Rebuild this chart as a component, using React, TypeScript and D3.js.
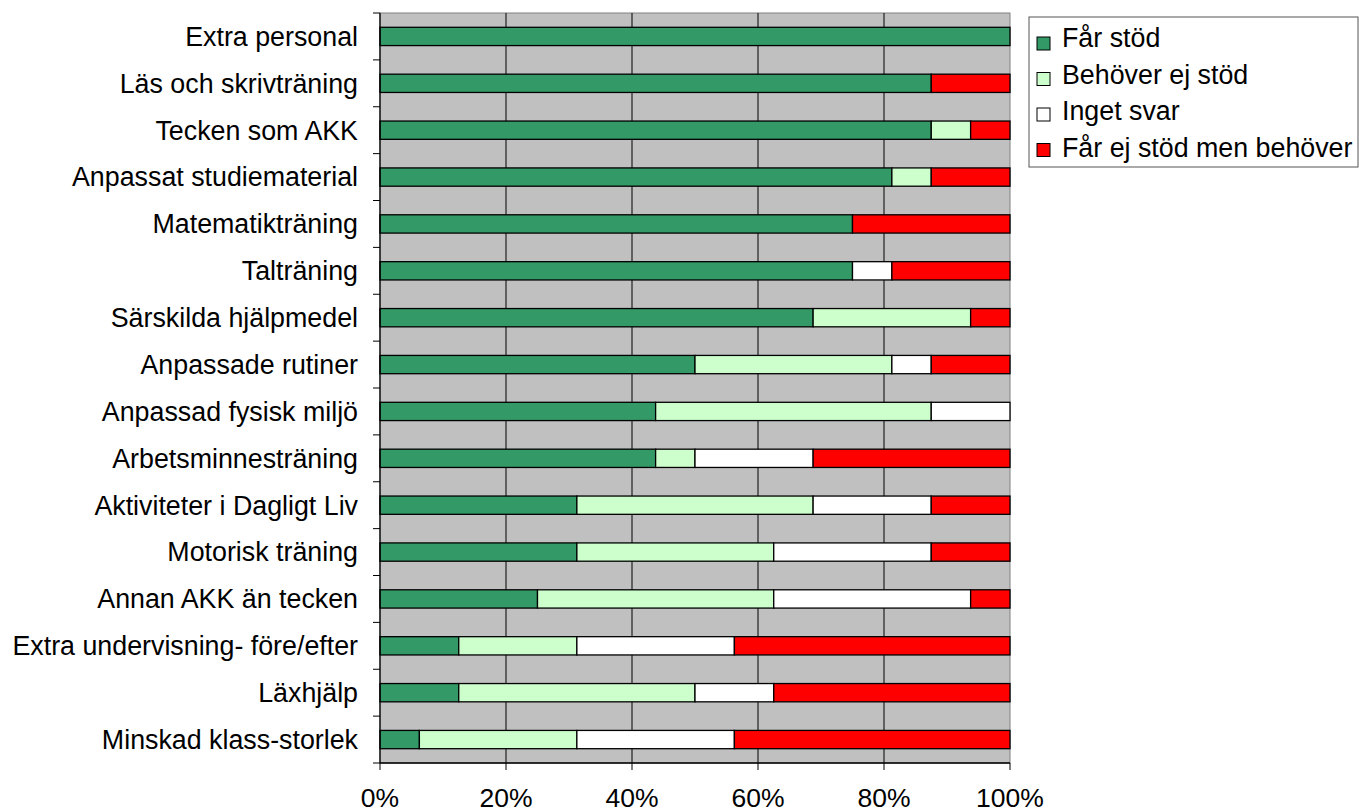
import React from "react";
import * as d3 from "d3";

const categories = [
  "Extra personal",
  "Läs och skrivträning",
  "Tecken som AKK",
  "Anpassat studiematerial",
  "Matematikträning",
  "Talträning",
  "Särskilda hjälpmedel",
  "Anpassade rutiner",
  "Anpassad fysisk miljö",
  "Arbetsminnesträning",
  "Aktiviteter i Dagligt Liv",
  "Motorisk träning",
  "Annan AKK än tecken",
  "Extra undervisning- före/efter",
  "Läxhjälp",
  "Minskad klass-storlek",
];

const farStod = [100, 87.5, 87.5, 81.25, 75, 75, 68.75, 50, 43.75, 43.75, 31.25, 31.25, 25, 12.5, 12.5, 6.25];
const behoverEjStod = [0, 0, 6.25, 6.25, 0, 0, 25, 31.25, 43.75, 6.25, 37.5, 31.25, 37.5, 18.75, 37.5, 25];
const ingetSvar = [0, 0, 0, 0, 0, 6.25, 0, 6.25, 12.5, 18.75, 18.75, 25, 31.25, 25, 12.5, 25];
const farEjStodMenBehover = [0, 12.5, 6.25, 12.5, 25, 18.75, 6.25, 12.5, 0, 31.25, 12.5, 12.5, 6.25, 43.75, 37.5, 43.75];

const seriesNames = ["Får stöd", "Behöver ej stöd", "Inget svar", "Får ej stöd men behöver"];
const seriesColors = ["#339966", "#CCFFCC", "#FFFFFF", "#FF0000"];
const xTicks = [0, 20, 40, 60, 80, 100];

const W = 1359;
const H = 812;
const left = 380;
const right = 1010;
const top = 13;
const bottom = 763;
const FONT = "'Liberation Sans', Arial, sans-serif";

export default function App() {
  const x = d3.scaleLinear().domain([0, 100]).range([left, right]);
  const y = d3.scaleBand<string>().domain(categories).range([top, bottom]).paddingInner(0.61).paddingOuter(0.305);
  const band = (bottom - top) / categories.length;

  const rows = categories.map((c, i) => ({
    cat: c,
    vals: [farStod[i], behoverEjStod[i], ingetSvar[i], farEjStodMenBehover[i]],
  }));
  const stacked = d3.stack<any>().keys([0, 1, 2, 3] as any).value((d: any, k: any) => d.vals[k])(rows);

  return (
    <svg width={W} height={H} style={{ position: "absolute", left: 0, top: 0, fontFamily: FONT }}>
      <rect x={left} y={top} width={right - left} height={bottom - top} fill="#C0C0C0" stroke="#808080" strokeWidth={1} />
      {xTicks.slice(1, -1).map((t) => (
        <line key={t} x1={x(t)} x2={x(t)} y1={top} y2={bottom} stroke="#000" strokeWidth={1} />
      ))}
      {stacked.map((s, si) =>
        s.map((d, i) => {
          const w = x(d[1]) - x(d[0]);
          if (w <= 0) return null;
          return (
            <rect
              key={si + "-" + i}
              x={x(d[0])}
              y={y(categories[i])!}
              width={w}
              height={y.bandwidth()}
              fill={seriesColors[si]}
              stroke="#000"
              strokeWidth={1.3}
            />
          );
        })
      )}
      {/* axes */}
      <line x1={left} x2={left} y1={top} y2={bottom} stroke="#000" strokeWidth={1.3} />
      <line x1={left} x2={right} y1={bottom} y2={bottom} stroke="#000" strokeWidth={1.3} />
      {d3.range(categories.length + 1).map((i) => (
        <line key={"yt" + i} x1={left - 7} x2={left} y1={top + i * band} y2={top + i * band} stroke="#000" strokeWidth={1} />
      ))}
      {xTicks.map((t) => (
        <line key={"xt" + t} x1={x(t)} x2={x(t)} y1={bottom} y2={bottom + 7} stroke="#000" strokeWidth={1} />
      ))}
      {categories.map((c) => (
        <text key={c} x={358} y={y(c)! + y.bandwidth() / 2} dy="0.35em" textAnchor="end" fontSize={26.8} fill="#000">
          {c}
        </text>
      ))}
      {xTicks.map((t) => (
        <text key={"xl" + t} x={x(t)} y={807} textAnchor="middle" fontSize={26.5} fill="#000">
          {t + "%"}
        </text>
      ))}
      {/* legend */}
      <rect x={1029} y={17} width={329} height={150} fill="#fff" stroke="#555" strokeWidth={1} />
      {seriesNames.map((n, i) => (
        <g key={n}>
          <rect x={1037} y={37 + i * 35.5} width={13} height={13} fill={seriesColors[i]} stroke="#000" strokeWidth={1} />
          <text x={1062} y={47 + i * 36.5} fontSize={26.8} fill="#000">
            {n}
          </text>
        </g>
      ))}
    </svg>
  );
}
